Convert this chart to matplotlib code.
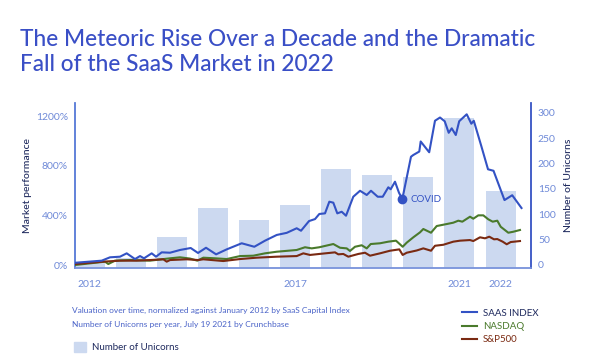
import matplotlib
matplotlib.use("Agg")
import matplotlib.pyplot as plt
from matplotlib.patches import Patch

plt.rcParams['font.family'] = ['Lato', 'DejaVu Sans']

# ---------------- data ----------------
years = [2012, 2013, 2014, 2015, 2016, 2017, 2018, 2019, 2020, 2021, 2022]
unicorns = [5, 14, 55, 112, 89, 118, 189, 178, 173, 291, 147]

saas_x = [2011.647, 2012.297, 2012.499, 2012.742, 2012.905, 2013.107, 2013.229, 2013.326,
          2013.513, 2013.618, 2013.757, 2013.959, 2014.202, 2014.462, 2014.640, 2014.835,
          2015.080, 2015.338, 2015.703, 2016.010, 2016.270, 2016.555, 2016.798, 2017.041,
          2017.146, 2017.341, 2017.487, 2017.591, 2017.730, 2017.835, 2017.932, 2018.029,
          2018.136, 2018.241, 2018.418, 2018.582, 2018.745, 2018.849, 2019.012, 2019.134,
          2019.270, 2019.328, 2019.433, 2019.530, 2019.611, 2019.822, 2019.878, 2020.024,
          2020.058, 2020.265, 2020.406, 2020.528, 2020.642, 2020.740, 2020.813, 2020.912,
          2020.995, 2021.178, 2021.290, 2021.350, 2021.533, 2021.696, 2021.830, 2022.097,
          2022.285, 2022.511]
saas_y = [18, 35, 62, 67, 94, 48, 72, 54,
          94, 67, 102, 99, 121, 137, 97, 139,
          86, 126, 175, 147, 196, 242, 259, 296,
          276, 354, 370, 411, 416, 510, 502, 416,
          429, 397, 550, 598, 564, 598, 550, 550,
          626, 610, 671, 582, 531, 872, 886, 914,
          995, 908, 1162, 1188, 1158, 1065, 1101, 1047,
          1158, 1214, 1138, 1162, 958, 771, 759, 523,
          562, 459]

nasdaq_x = [2011.647, 2012.377, 2012.457, 2012.620, 2012.985, 2013.472, 2013.959, 2014.202,
            2014.445, 2014.623, 2014.769, 2015.054, 2015.338, 2015.662, 2015.985, 2016.270,
            2016.555, 2017.041, 2017.243, 2017.406, 2017.591, 2017.932, 2018.095, 2018.258,
            2018.338, 2018.460, 2018.623, 2018.745, 2018.842, 2019.068, 2019.270, 2019.457,
            2019.620, 2019.718, 2019.878, 2020.041, 2020.122, 2020.309, 2020.448, 2020.691,
            2020.852, 2020.973, 2021.071, 2021.258, 2021.338, 2021.460, 2021.582, 2021.703,
            2021.810, 2021.922, 2022.005, 2022.190, 2022.311, 2022.474]
nasdaq_y = [0, 27, 8, 35, 40, 35, 54, 62,
            52, 35, 59, 54, 48, 72, 75, 94,
            107, 121, 143, 134, 143, 169, 139, 134,
            113, 147, 159, 134, 169, 175, 188, 196,
            147, 180, 223, 263, 290, 260, 314, 330,
            341, 357, 349, 389, 373, 400, 400, 368,
            349, 357, 308, 260, 268, 282]

sp500_x = [2011.647, 2012.336, 2012.742, 2013.148, 2013.472, 2013.796, 2013.878, 2013.959,
           2014.365, 2014.647, 2014.769, 2015.255, 2015.662, 2016.068, 2016.555, 2017.041,
           2017.202, 2017.365, 2017.591, 2017.973, 2018.054, 2018.175, 2018.297, 2018.540,
           2018.703, 2018.825, 2019.068, 2019.311, 2019.538, 2019.620, 2019.718, 2019.961,
           2020.122, 2020.309, 2020.406, 2020.608, 2020.852, 2021.015, 2021.258, 2021.338,
           2021.501, 2021.623, 2021.727, 2021.842, 2021.922, 2022.053, 2022.151, 2022.248,
           2022.474]
sp500_y = [8, 27, 35, 35, 40, 46, 27, 40,
           46, 40, 46, 32, 48, 59, 67, 72,
           94, 81, 89, 102, 86, 89, 67, 89,
           99, 75, 94, 115, 126, 81, 99, 117,
           134, 115, 155, 163, 188, 196, 201, 193,
           223, 215, 228, 207, 209, 188, 167, 185,
           193]

covid_x = 2019.611
covid_y = 531

xticks = [2012, 2017, 2021, 2022]
left_ticks = [0, 400, 800, 1200]
right_ticks = [0, 50, 100, 150, 200, 250, 300]

# ---------------- style ----------------
TITLE = '#3a4fc6'
BLUE = '#3352c4'
GREEN = '#4a7a2c'
BROWN = '#7a2a12'
BAR = '#ccd9f0'
TICK = '#6f8ad8'
NAVY = '#1f2a5e'

fig = plt.figure(figsize=(6.0, 3.62), dpi=100)
ax_bar = fig.add_axes([0.125, 0.2597, 0.76, 0.4558])
ax = ax_bar.twinx()

xmin, xmax = 2011.647, 2022.742
ybot_r, ytop_r = -5.9, 319.7
ax_bar.set_xlim(xmin, xmax)
ax_bar.set_ylim(ybot_r, ytop_r)
ax_bar.bar(years, [u - ybot_r for u in unicorns], bottom=ybot_r, width=0.73,
           color=BAR, zorder=1)
ax_bar.yaxis.tick_right()
ax_bar.yaxis.set_label_position('right')
ax_bar.set_yticks(right_ticks)
ax_bar.set_ylabel('Number of Unicorns', color=NAVY, fontsize=7.5, labelpad=6,
                  fontweight='medium')

ax.set_ylim(-24, 1305)
ax.yaxis.tick_left()
ax.yaxis.set_label_position('left')
ax.set_yticks(left_ticks)
ax.set_yticklabels([f'{v}%' for v in left_ticks])
ax.set_ylabel('Market performance', color=NAVY, fontsize=7.5, labelpad=3,
              fontweight='medium')

l1, = ax.plot(saas_x, saas_y, color=BLUE, lw=1.5, zorder=4, label='SAAS INDEX')
l2, = ax.plot(nasdaq_x, nasdaq_y, color=GREEN, lw=1.5, zorder=3, label='NASDAQ')
l3, = ax.plot(sp500_x, sp500_y, color=BROWN, lw=1.5, zorder=3, label='S&P500')
ax.plot([covid_x], [covid_y], 'o', color=BLUE, ms=6, zorder=5)
ax.annotate('COVID', (covid_x, covid_y), xytext=(6, 0), textcoords='offset points',
            va='center', ha='left', color=BLUE, fontsize=7)

ax_bar.set_xticks(xticks)
ax_bar.set_xticklabels([str(x) for x in xticks])
for a in (ax, ax_bar):
    a.tick_params(axis='y', length=0, labelsize=7.5, colors=TICK, pad=5)
    a.tick_params(axis='x', length=0, labelsize=7.5, colors=TICK, pad=9)
    a.spines['top'].set_visible(False)
    a.spines['left'].set_color('#5d7fd8')
    a.spines['right'].set_color('#3f5bc6')
    a.spines['bottom'].set_color('#7d97dd')
    for s in ('left', 'right', 'bottom'):
        a.spines[s].set_linewidth(1.1)
ax.patch.set_visible(False)

fig.text(0.033, 1 - 52/362, 'The Meteoric Rise Over a Decade and the Dramatic\nFall of the SaaS Market in 2022',
         color=TITLE, fontsize=16.3, fontweight='medium', ha='left', va='center',
         linespacing=1.2)

fig.text(0.12, 1 - 310/362, 'Valuation over time, normalized against January 2012 by SaaS Capital Index',
         color='#4a63c8', fontsize=6, ha='left', va='center')
fig.text(0.12, 1 - 324/362, 'Number of Unicorns per year, July 19 2021 by Crunchbase',
         color='#4a63c8', fontsize=6, ha='left', va='center')

fig.legend(handles=[Patch(color=BAR, label='Number of Unicorns')], loc='center left',
           bbox_to_anchor=(0.108, 1 - 347/362), frameon=False, fontsize=7,
           labelcolor=NAVY, handlelength=1.3, handleheight=1.3, handletextpad=0.6)
fig.legend(handles=[l1, l2, l3], loc='upper left', bbox_to_anchor=(0.755, 1 - 300/362),
           frameon=False, fontsize=7, labelcolor=[NAVY, GREEN, BROWN],
           handlelength=1.6, handletextpad=0.6, labelspacing=0.45)

fig.savefig('out.png', dpi=100)
